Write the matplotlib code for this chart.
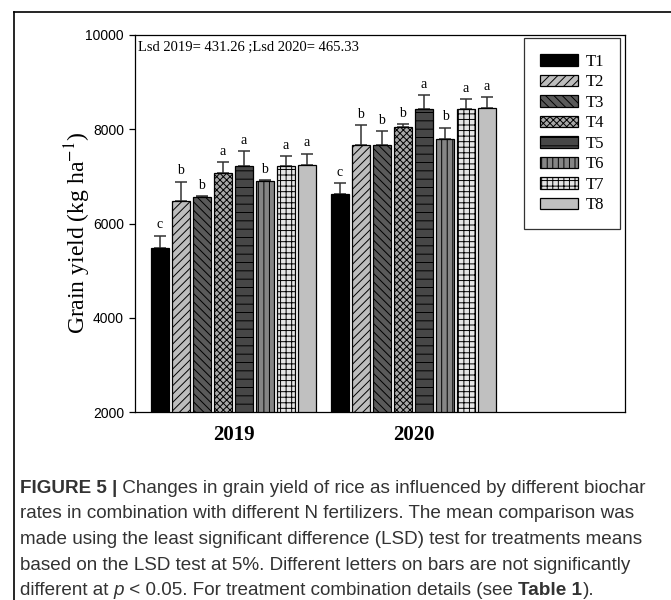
import matplotlib
matplotlib.use("Agg")
import matplotlib.pyplot as plt
import numpy as np

years = ["2019", "2020"]
treatments = ["T1", "T2", "T3", "T4", "T5", "T6", "T7", "T8"]
yield_2019 = [5490, 6480, 6555, 7065, 7220, 6895, 7225, 7250]
yield_2020 = [6625, 7675, 7675, 8040, 8425, 7800, 8425, 8445]
err_2019 = [255, 410, 35, 235, 310, 35, 210, 235]
err_2020 = [240, 410, 290, 65, 305, 235, 220, 235]
letters_2019 = ["c", "b", "b", "a", "a", "b", "a", "a"]
letters_2020 = ["c", "b", "b", "b", "a", "b", "a", "a"]
lsd_note = "Lsd 2019= 431.26 ;Lsd 2020= 465.33"
yticks = [2000, 4000, 6000, 8000, 10000]

faces = ["black", "#bdbdbd", "#5a5a5a", "#a8a8a8", "#474747", "#858585", "#e4e4e4", "#c0c0c0"]
hatches = [None, "////", "\\\\\\\\", "xxxxx", "--", "|||", "+++", None]

plt.rcParams["hatch.linewidth"] = 0.7
plt.rcParams["mathtext.fontset"] = "stix"

W, H = 671, 600
fig = plt.figure(figsize=(W / 100, H / 100), dpi=100)
ax = fig.add_axes([135 / W, (H - 412) / H, 490 / W, 377 / H])

width = 0.1
step = 0.1167
centers = np.arange(len(years))
for i, t in enumerate(treatments):
    xs = centers + (i - 3.5) * step
    vals = [yield_2019[i], yield_2020[i]]
    errs = [err_2019[i], err_2020[i]]
    ax.bar(xs, vals, width, color=faces[i], edgecolor="black", linewidth=0.9,
           hatch=hatches[i], label=t, zorder=2)
    ax.errorbar(xs, vals, yerr=[[0, 0], errs], fmt="none", ecolor="#333333",
                elinewidth=1.1, capsize=4.3, capthick=1.1, zorder=1)
    for x, v, e, lab in zip(xs, vals, errs, [letters_2019[i], letters_2020[i]]):
        ax.annotate(lab, (x, v + e), xytext=(0, 3), textcoords="offset points",
                    ha="center", va="bottom", fontsize=10, family="Liberation Serif")

ax.set_xlim(-0.547, 2.175)
ax.set_ylim(2000, 10000)
ax.set_yticks(yticks)
ax.set_yticklabels([str(v) for v in yticks], family="Liberation Sans", fontsize=10)
ax.tick_params(axis="y", direction="out", length=4.5, width=0.9)
ax.set_xticks(centers)
ax.set_xticklabels(years, family="Liberation Serif", fontsize=15, fontweight="bold")
ax.tick_params(axis="x", length=0, pad=9)
for s in ax.spines.values():
    s.set_linewidth(0.9)

ax.set_ylabel(r"Grain yield (kg ha$^{-1}$)", family="Liberation Serif", fontsize=17)
ax.yaxis.set_label_coords(-0.085, 0.476)

ax.text(0.006, 0.985, lsd_note, transform=ax.transAxes, ha="left", va="top",
        family="Liberation Serif", fontsize=10.5)

leg = ax.legend(loc="upper right", bbox_to_anchor=(0.9898, 0.992), borderaxespad=0,
                prop={"family": "Liberation Serif", "size": 12}, fancybox=False,
                edgecolor="black", handlelength=2.3, handleheight=0.65,
                labelspacing=0.27, borderpad=0.95, handletextpad=0.45)
leg.get_frame().set_linewidth(0.9)

# outer frame of the figure panel
fig.add_artist(plt.Line2D([14 / W, 14 / W], [0, 1 - 12 / H], color="black", lw=1.2))
fig.add_artist(plt.Line2D([14 / W, 1], [1 - 12 / H, 1 - 12 / H], color="black", lw=1.2))

# caption, written run by run
renderer = fig.canvas.get_renderer()
cap_color = "#333333"
cap_size = 13.6
caption = [
    [("FIGURE 5 |", "bold", "normal"), (" Changes in grain yield of rice as influenced by different biochar", "normal", "normal")],
    [("rates in combination with different N fertilizers. The mean comparison was", "normal", "normal")],
    [("made using the least significant difference (LSD) test for treatments means", "normal", "normal")],
    [("based on the LSD test at 5%. Different letters on bars are not significantly", "normal", "normal")],
    [("different at ", "normal", "normal"), ("p", "normal", "italic"),
     (" < 0.05. For treatment combination details (see ", "normal", "normal"),
     ("Table 1", "bold", "normal"), (").", "normal", "normal")],
]
base_y = 493
for k, line in enumerate(caption):
    x = 20
    y = base_y + k * 25.5
    for txt, wt, st in line:
        t = fig.text(x / W, 1 - y / H, txt, ha="left", va="baseline", fontsize=cap_size,
                     family="Liberation Sans", fontweight=wt, fontstyle=st, color=cap_color)
        bb = t.get_window_extent(renderer)
        x += bb.width

fig.savefig("out.png", dpi=100)
